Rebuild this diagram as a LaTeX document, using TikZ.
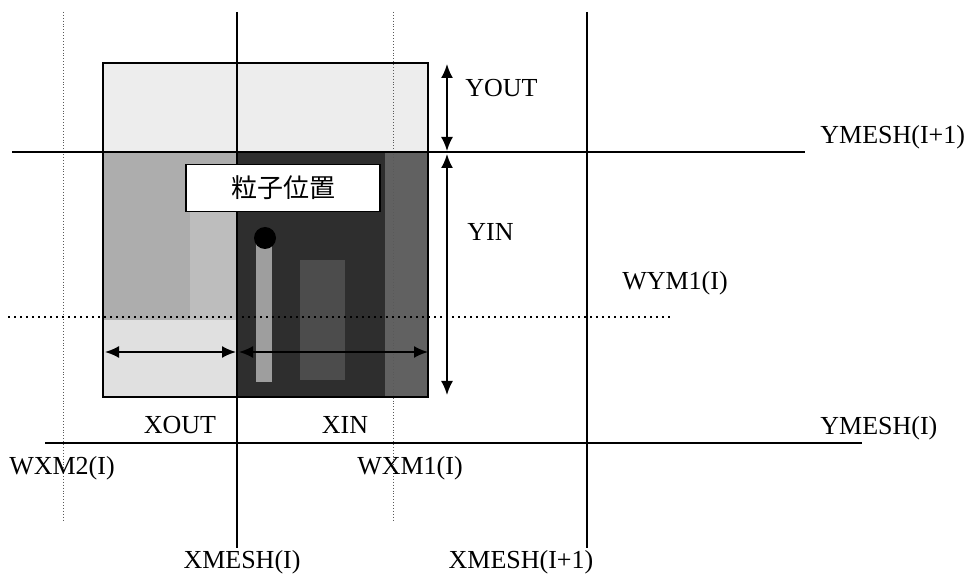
\documentclass[tikz,border=0pt]{standalone}
\usepackage{fontspec}
\setmainfont{Liberation Serif}
\newfontfamily\jpfont{Noto Sans CJK JP}
\usetikzlibrary{arrows.meta, positioning}

\begin{document}
\begin{tikzpicture}[
    x=0.5pt, y=-0.5pt,
    meshline/.style={line width=1.1pt, black},
    weightline/.style={line width=0.45pt, black!65, densely dotted},
    dimline/.style={{Latex[length=7pt,width=6pt]}-{Latex[length=7pt,width=6pt]}, line width=0.9pt},
    lbl/.style={font=\fontsize{13}{15}\selectfont, inner sep=0pt},
    posbox/.style={
      rectangle,
      draw=black,
      line width=0.8pt,
      fill=white,
      minimum width=97pt,
      minimum height=23.5pt,
      font=\jpfont\fontsize{13}{15}\selectfont
    }
  ]
    \useasboundingbox (0,0) rectangle (974,582);

    % shaded cell of the particle
    \fill[black!7] (103,63) rectangle (428,152);
    \fill[black!32] (103,152) rectangle (237,397);
    \fill[black!26] (190,200) rectangle (237,320);
    \fill[black!12] (103,320) rectangle (237,397);
    \fill[black!82] (237,152) rectangle (428,397);
    \fill[black!62] (385,152) rectangle (428,397);
    \fill[black!70] (300,260) rectangle (345,380);
    \fill[black!38] (256,240) rectangle (272,382);
    \draw[line width=1pt] (103,63) rectangle (428,397);

    % mesh and weight lines
    \coordinate (wxm2top) at (63,12);
    \coordinate (wxm2bot) at (63,520);
    \coordinate (xmtop) at (237,12);
    \coordinate (xmbot) at (237,548);
    \coordinate (wxm1top) at (393,12);
    \coordinate (wxm1bot) at (393,520);
    \coordinate (xmptop) at (587,12);
    \coordinate (xmpbot) at (587,548);
    \coordinate (ympl) at (12,152);
    \coordinate (ympr) at (805,152);
    \coordinate (yml) at (45,443);
    \coordinate (ymr) at (862,443);
    \coordinate (wyml) at (8,317);
    \coordinate (wymr) at (672,317);

    \draw[weightline] (wxm2top) -- (wxm2bot);
    \draw[weightline] (wxm1top) -- (wxm1bot);
    \draw[meshline] (xmtop) -- (xmbot);
    \draw[meshline] (xmptop) -- (xmpbot);
    \draw[meshline] (ympl) -- (ympr);
    \draw[meshline] (yml) -- (ymr);
    \draw[line width=1pt, dotted] (wyml) -- (wymr);

    % particle
    \node[posbox] (pos) at (283,188) {粒子位置};
    \node[circle, fill=black, minimum size=11pt, inner sep=0pt] (particle) at (265,238) {};

    % dimension arrows
    \coordinate (youttop) at (447,64);
    \coordinate (youtbot) at (447,151);
    \coordinate (yintop) at (447,154);
    \coordinate (yinbot) at (447,395);
    \coordinate (xoutl) at (105,352);
    \coordinate (xoutr) at (236,352);
    \coordinate (xinl) at (239,352);
    \coordinate (xinr) at (428,352);

    \draw[dimline] (youttop) -- (youtbot);
    \draw[dimline] (yintop) -- (yinbot);
    \draw[dimline] (xoutl) -- (xoutr);
    \draw[dimline] (xinl) -- (xinr);

    % labels
    \node[lbl, anchor=west] (yout) at (465,88) {YOUT};
    \node[lbl, anchor=west] (yin) at (467,232) {YIN};
    \node[lbl, anchor=west] (ymeshp) at (820,137) {YMESH(I+1)};
    \node[lbl, anchor=west] (ymesh) at (820,428) {YMESH(I)};
    \node[lbl] (wym1) at (675,283) {WYM1(I)};
    \node[lbl] (xout) at (180,425) {XOUT};
    \node[lbl] (xin) at (345,425) {XIN};
    \node[lbl] (wxm2) at (62,468) {WXM2(I)};
    \node[lbl] (wxm1) at (410,468) {WXM1(I)};
    \node[lbl] (xmesh) at (242,562) {XMESH(I)};
    \node[lbl] (xmeshp) at (521,562) {XMESH(I+1)};
\end{tikzpicture}
\end{document}
